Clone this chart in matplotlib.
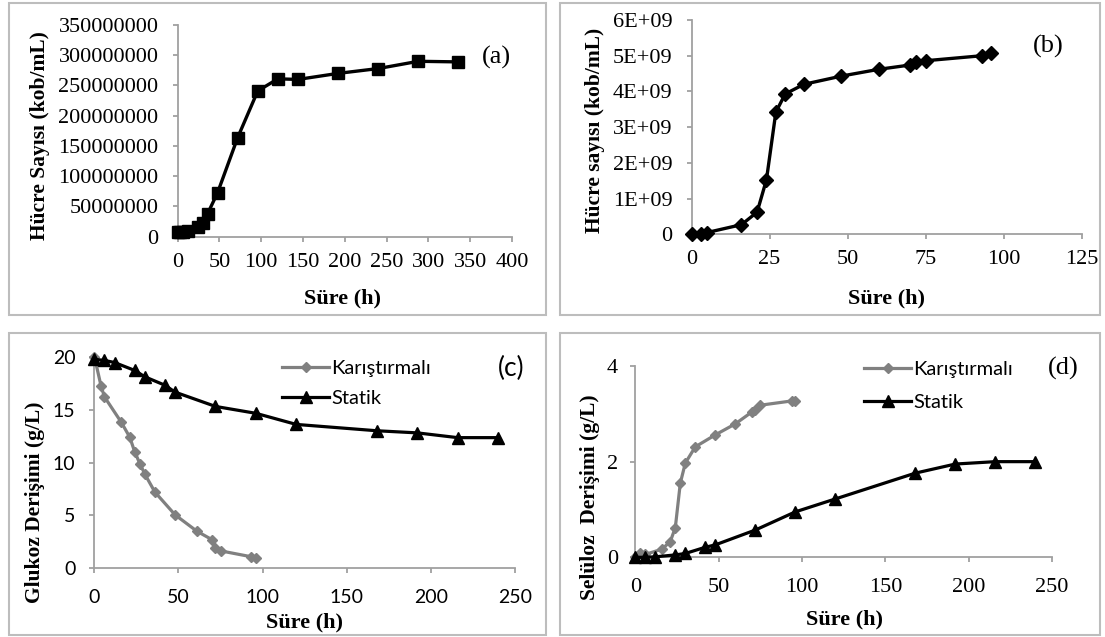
import matplotlib
matplotlib.use("Agg")
import matplotlib.pyplot as plt
from matplotlib.patches import Rectangle

# ---------------- data ----------------
# (a) cell count, static
a_time = [0, 3, 6, 12, 24, 30, 36, 48, 72, 96, 120, 144, 192, 240, 288, 336]
a_count = [8e6, 8e6, 8e6, 9e6, 16e6, 23e6, 38e6, 73e6, 164e6, 241e6, 261e6, 260e6, 270e6, 278e6, 290e6, 289e6]
a_xticks = [0, 50, 100, 150, 200, 250, 300, 350, 400]
a_yticks = [0, 50e6, 100e6, 150e6, 200e6, 250e6, 300e6, 350e6]
a_yticklabels = ["0", "50000000", "100000000", "150000000", "200000000",
                 "250000000", "300000000", "350000000"]

# (b) cell count, agitated
b_time = [0, 3, 5, 16, 21, 24, 27, 30, 36, 48, 60, 70, 72, 75, 93, 96]
b_count = [0.02e9, 0.02e9, 0.05e9, 0.27e9, 0.62e9, 1.53e9, 3.42e9, 3.93e9, 4.2e9,
           4.43e9, 4.62e9, 4.74e9, 4.82e9, 4.86e9, 5.0e9, 5.08e9]
b_xticks = [0, 25, 50, 75, 100, 125]
b_yticks = [0, 1e9, 2e9, 3e9, 4e9, 5e9, 6e9]
b_yticklabels = ["0", "1E+09", "2E+09", "3E+09", "4E+09", "5E+09", "6E+09"]

# (c) glucose concentration
c_time_k = [0, 4, 6, 16, 21, 24, 27, 30, 36, 48, 61, 70, 72, 75, 93, 96]
c_gluc_k = [20.0, 17.2, 16.2, 13.8, 12.4, 11.0, 9.9, 8.9, 7.2, 5.05, 3.5, 2.7, 1.95, 1.65, 1.1, 1.0]
c_time_s = [0, 6, 12, 24, 30, 42, 48, 72, 96, 120, 168, 192, 216, 240]
c_gluc_s = [19.75, 19.65, 19.45, 18.7, 18.1, 17.3, 16.65, 15.3, 14.65, 13.6, 13.0, 12.8, 12.35, 12.35]
c_xticks = [0, 50, 100, 150, 200, 250]
c_yticks = [0, 5, 10, 15, 20]

# (d) cellulose concentration
d_time_k = [0, 3, 6, 16, 21, 24, 27, 30, 36, 48, 60, 70, 72, 75, 94, 96]
d_cell_k = [0.0, 0.1, 0.06, 0.17, 0.33, 0.62, 1.55, 1.97, 2.31, 2.56, 2.79, 3.04, 3.08, 3.18, 3.27, 3.27]
d_time_s = [0, 6, 12, 24, 30, 42, 48, 72, 96, 120, 168, 192, 216, 240]
d_cell_s = [0.0, 0.0, 0.01, 0.05, 0.08, 0.21, 0.26, 0.57, 0.95, 1.22, 1.76, 1.95, 2.0, 2.0]
d_xticks = [0, 50, 100, 150, 200, 250]
d_yticks = [0, 2, 4]

series_names = ["Karıştırmalı", "Statik"]
panel_tags = ["(a)", "(b)", "(c)", "(d)"]
xlabel = "Süre (h)"
ylabels = ["Hücre Sayısı (kob/mL)", "Hücre sayısı (kob/mL)",
           "Glukoz Derişimi (g/L)", "Selüloz  Derişimi (g/L)"]

# ---------------- styling ----------------
W, H = 1105, 637
SERIF = "Liberation Serif"
SANS = "Lato"
AXIS_GREY = "#A0A0A0"
BOX_GREY = "#BDBDBD"
SER_GREY = "#808080"

plt.rcParams["font.family"] = [SERIF, "DejaVu Serif"]

fig = plt.figure(figsize=(W / 100, H / 100), dpi=100)


def fx(px):
    return px / W


def fy(py):
    return 1 - py / H


def make_axes(x0, x1, ytop, ybot):
    return fig.add_axes([fx(x0), fy(ybot), fx(x1 - x0), (ybot - ytop) / H])


def setup(ax, xlim, ylim, xticks, yticks, ylabs, family, size, xpad, ypad):
    ax.set_xlim(*xlim)
    ax.set_ylim(*ylim)
    ax.set_xticks(xticks)
    ax.set_xticklabels([str(v) for v in xticks], family=family, fontsize=size)
    ax.set_yticks(yticks)
    ax.set_yticklabels(ylabs, family=family, fontsize=size)
    for s in ["top", "right"]:
        ax.spines[s].set_visible(False)
    for s in ["left", "bottom"]:
        ax.spines[s].set_color(AXIS_GREY)
        ax.spines[s].set_linewidth(1.3)
    ax.tick_params(direction="out", length=3.6, width=1.3, color=AXIS_GREY)
    ax.tick_params(axis="x", pad=xpad)
    ax.tick_params(axis="y", pad=ypad)
    ax.patch.set_alpha(0)


# panel boxes
for (x0, y0, x1, y1) in [(9, 3, 546, 315), (560, 3, 1100, 315),
                         (9, 333, 546, 635), (560, 333, 1100, 635)]:
    fig.patches.append(Rectangle((fx(x0), fy(y1)), fx(x1 - x0), (y1 - y0) / H,
                                 transform=fig.transFigure, fill=False,
                                 edgecolor=BOX_GREY, linewidth=1.5))

XL = dict(ha="center", va="center", family=SERIF, weight="bold", fontsize=16)
YL = dict(ha="center", va="center", rotation=90, family=SERIF, weight="bold", fontsize=15.5)

# ---- (a)
ax = make_axes(177.5, 512, 25, 236.7)
ax.plot(a_time, a_count, color="black", lw=2.4, marker="s", ms=9, zorder=3, clip_on=False)
setup(ax, (0, 400), (0, 350e6), a_xticks, a_yticks, a_yticklabels, SERIF, 16, 8, 10)
fig.text(fx(343), fy(298), xlabel, **XL)
fig.text(fx(40), fy(136), ylabels[0], **YL)
fig.text(fx(496), fy(57), panel_tags[0], ha="center", va="center", family=SERIF, fontsize=19)

# ---- (b)
ax = make_axes(691.5, 1082, 20, 234.3)
ax.plot(b_time, b_count, color="black", lw=2.4, marker="D", ms=7, zorder=3, clip_on=False)
setup(ax, (0, 125), (0, 6e9), b_xticks, b_yticks, b_yticklabels, SERIF, 16, 8, 10)
fig.text(fx(886), fy(298), xlabel, **XL)
fig.text(fx(595), fy(130), ylabels[1], **YL)
fig.text(fx(1048), fy(46), panel_tags[1], ha="center", va="center", family=SERIF, fontsize=19)

# ---- (c)
ax = make_axes(94.4, 514.8, 356.7, 568.3)
ax.plot(c_time_k, c_gluc_k, color=SER_GREY, lw=2.3, marker="D", ms=5.5, zorder=3,
        clip_on=False, label=series_names[0])
ax.plot(c_time_s, c_gluc_s, color="black", lw=2.3, marker="^", ms=9, zorder=4,
        clip_on=False, label=series_names[1])
setup(ax, (0, 250), (0, 20), c_xticks, c_yticks, [str(v) for v in c_yticks], SANS, 14, 11.5, 10)
ax.legend(loc="upper left", bbox_to_anchor=(fx(282), fy(360)),
          bbox_transform=fig.transFigure, frameon=False, prop={"family": SANS, "size": 14.5},
          handlelength=2.35, handletextpad=0.08, labelspacing=0.62, borderpad=0,
          borderaxespad=0, numpoints=1)
fig.text(fx(304), fy(622), xlabel, **XL)
fig.text(fx(35), fy(502), ylabels[2], **YL)
fig.text(fx(511), fy(368), panel_tags[2], ha="center", va="center", family=SANS, fontsize=19)

# ---- (d)
ax = make_axes(635.3, 1052, 366, 557.3)
ax.plot(d_time_k, d_cell_k, color=SER_GREY, lw=2.3, marker="D", ms=5.5, zorder=3,
        clip_on=False, label=series_names[0])
ax.plot(d_time_s, d_cell_s, color="black", lw=2.3, marker="^", ms=9, zorder=4,
        clip_on=False, label=series_names[1])
setup(ax, (0, 250), (0, 4), d_xticks, d_yticks, [str(v) for v in d_yticks], SERIF, 16, 11, 9)
ax.legend(loc="upper left", bbox_to_anchor=(fx(864), fy(361)),
          bbox_transform=fig.transFigure, frameon=False, prop={"family": SANS, "size": 14.5},
          handlelength=2.35, handletextpad=0.08, labelspacing=0.78, borderpad=0,
          borderaxespad=0, numpoints=1)
fig.text(fx(844), fy(619), xlabel, **XL)
fig.text(fx(590), fy(497), ylabels[3], **YL)
fig.text(fx(1063), fy(368), panel_tags[3], ha="center", va="center", family=SERIF, fontsize=19)

fig.savefig("out.png", dpi=100)
